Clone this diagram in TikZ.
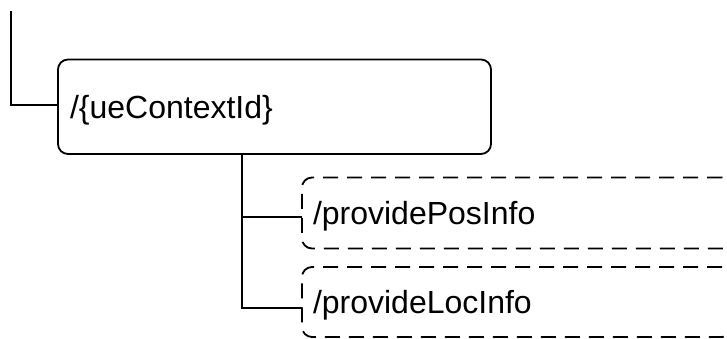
\documentclass[tikz,border=0pt]{standalone}
\usepackage{fontspec}
\setmainfont{Liberation Sans}
\begin{document}
\begin{tikzpicture}[x=1pt,y=-1pt,
  res/.style={draw, line width=1.8pt, rounded corners=10pt, outer sep=0pt,
    font=\fontsize{32pt}{38pt}\selectfont, text height=23pt, text depth=0pt,
    inner xsep=12pt, inner ysep=0pt, anchor=west, align=left},
  opt/.style={res, dash pattern=on 15pt off 9pt, inner xsep=11pt},
  conn/.style={line width=1.8pt}]
\useasboundingbox (0,0) rectangle (727,338);
\node[res, text width=409pt, minimum height=94.5pt] (A) at (58,106.75) {/\{ueContextId\}};
\node[opt, text width=408pt, minimum height=71pt] (B) at (302,213) {/providePosInfo};
\node[opt, text width=408pt, minimum height=70pt] (C) at (302,302) {/provideLocInfo};
\coordinate (root) at (11,11);
\coordinate (fork) at ([xshift=184pt]A.south west);
\draw[conn] (root) |- ([yshift=1.75pt]A.west);
\draw[conn] (fork) |- ([yshift=-4pt]B.west);
\draw[conn] (fork) |- ([yshift=-6pt]C.west);
\end{tikzpicture}
\end{document}
